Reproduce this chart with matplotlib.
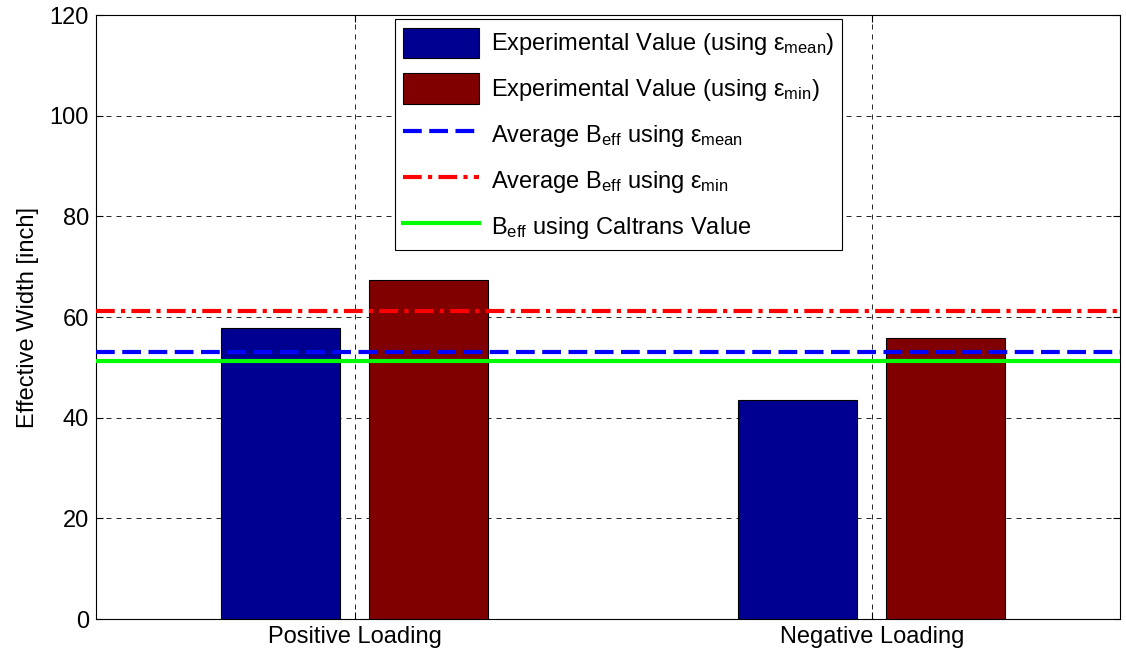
import matplotlib.pyplot as plt
import numpy as np

plt.rcParams['font.family'] = ['Liberation Sans', 'DejaVu Sans']
plt.rcParams['mathtext.fontset'] = 'custom'
plt.rcParams['mathtext.rm'] = 'Liberation Sans'
plt.rcParams['mathtext.it'] = 'Liberation Sans'

categories = ['Positive Loading', 'Negative Loading']
b_eff_mean = [57.8, 43.5]
b_eff_min = [67.4, 55.8]
avg_mean = 53.0
avg_min = 61.2
caltrans = 51.3

x = np.arange(1, len(categories) + 1)
w = 0.23
fs = 17

fig = plt.figure(figsize=(11.26, 6.53), dpi=100)
ax = fig.add_axes([0.0853, 0.052, 0.9094, 0.925])

b1 = ax.bar(x - 0.143, b_eff_mean, w, color='#000090', edgecolor='black', linewidth=0.8,
            label=r'Experimental Value (using $\varepsilon_{\mathrm{mean}}$)', zorder=2)
b2 = ax.bar(x + 0.143, b_eff_min, w, color='#800000', edgecolor='black', linewidth=0.8,
            label=r'Experimental Value (using $\varepsilon_{\mathrm{min}}$)', zorder=2)
l1 = ax.axhline(avg_mean, color='#0000ff', lw=3, linestyle=(0, (4.5, 1.8)), zorder=3,
                label=r'Average B$_{\mathrm{eff}}$ using $\varepsilon_{\mathrm{mean}}$')
l2 = ax.axhline(avg_min, color='#ff0000', lw=3, linestyle=(0, (4.5, 1.5, 1, 1.5)), zorder=3,
                label=r'Average B$_{\mathrm{eff}}$ using $\varepsilon_{\mathrm{min}}$')
l3 = ax.axhline(caltrans, color='#00ff00', lw=3, zorder=3,
                label=r'B$_{\mathrm{eff}}$ using Caltrans Value')

ax.set_xlim(0.5, 2.48)
ax.set_ylim(0, 120)
ax.set_xticks(x)
ax.set_xticklabels(categories)
ax.set_yticks(np.arange(0, 121, 20))
ax.set_ylabel('Effective Width [inch]', fontsize=fs, labelpad=8)
ax.tick_params(direction='in', labelsize=fs, length=5, top=True, right=True,
               width=0.8, pad=5)
ax.grid(True, color='black', linestyle=(0, (6, 6)), linewidth=0.6, zorder=0)
ax.set_axisbelow(True)
for s in ax.spines.values():
    s.set_linewidth(0.8)

handles = [b1, b2, l1, l2, l3]
leg = ax.legend(handles=handles, labels=[h.get_label() for h in handles],
                loc='upper left', bbox_to_anchor=(0.292, 0.993), fontsize=fs,
                fancybox=False, framealpha=1, edgecolor='black',
                handlelength=3.2, handleheight=1.6, labelspacing=0.66,
                borderpad=0.35, handletextpad=0.5, borderaxespad=0)
leg.get_frame().set_linewidth(0.8)

fig.savefig('out.png', dpi=100)
